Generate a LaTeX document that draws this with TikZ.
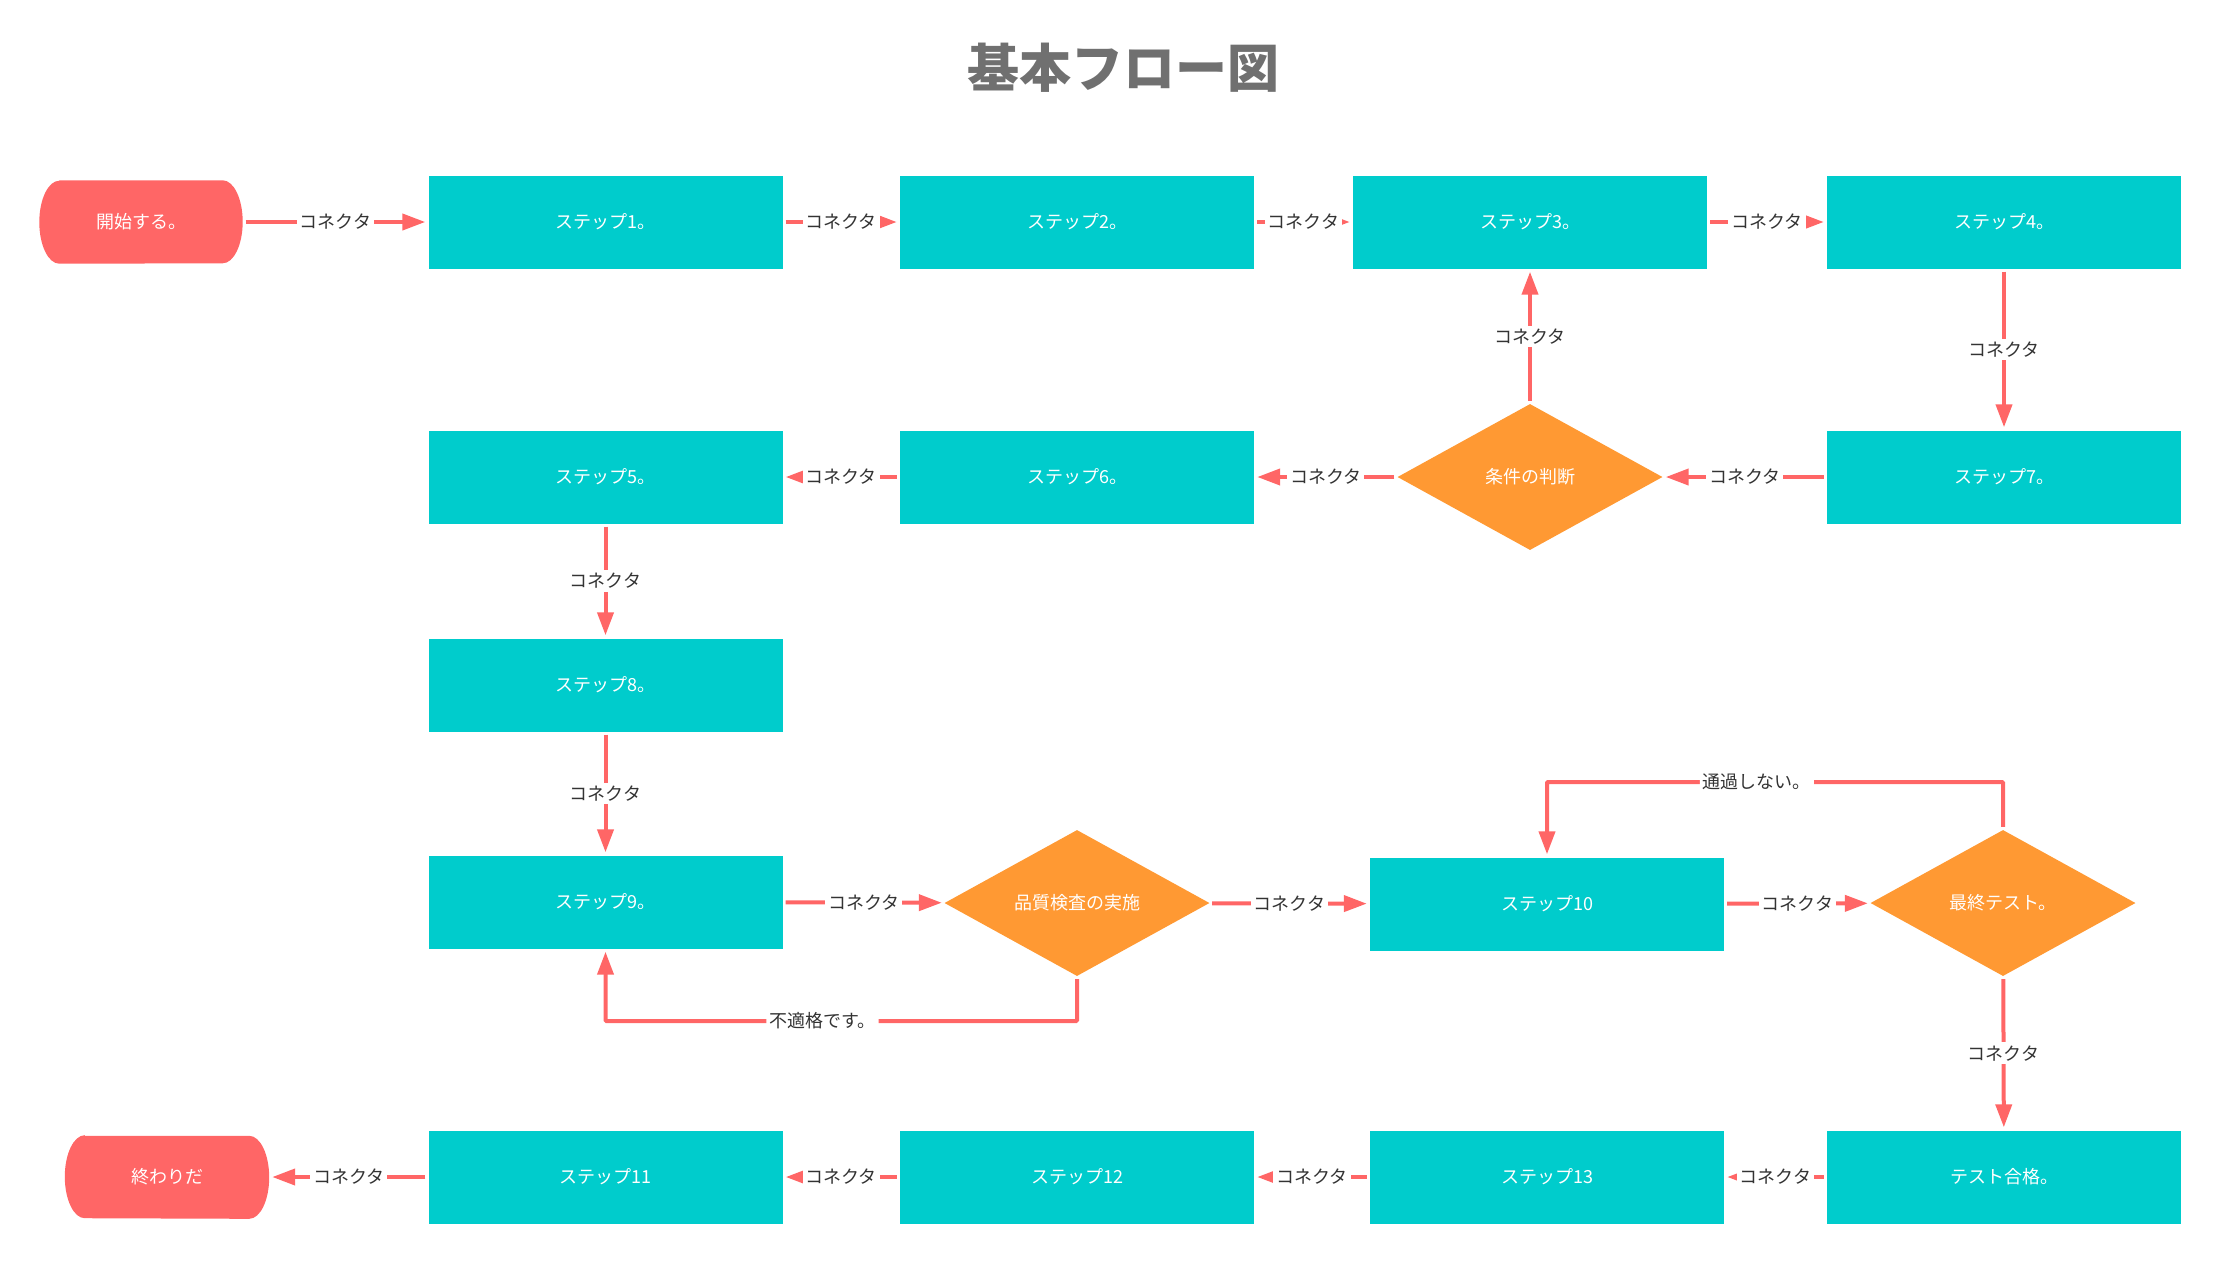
\documentclass[tikz,border=0pt]{standalone}
\usepackage{fontspec}
\setmainfont{Noto Sans CJK JP}
\usetikzlibrary{shapes.geometric,arrows.meta,backgrounds,calc}
\definecolor{tealbox}{HTML}{00CCCC}
\definecolor{redline}{HTML}{FF6666}
\definecolor{orangebox}{HTML}{FF9933}
\definecolor{titlegray}{HTML}{707070}
\definecolor{lblgray}{HTML}{333333}
\tikzset{
  stepbox/.style={rectangle, fill=tealbox, minimum width=354pt, minimum height=93pt, inner sep=0pt, text=white, font=\fontsize{18}{20}\selectfont},
  decbox/.style={diamond, fill=orangebox, minimum width=265pt, minimum height=146pt, inner sep=0pt, text=white, font=\fontsize{18}{20}\selectfont},
  termtext/.style={rectangle, minimum width=203pt, minimum height=83pt, inner sep=0pt, text=white, font=\fontsize{18}{20}\selectfont},
  conn/.style={draw=redline, line width=4pt, -{Triangle[length=23pt,width=16pt]}, shorten >=3pt, shorten <=3pt},
  lbl/.style={fill=white, text=lblgray, font=\fontsize{18}{19}\selectfont, inner sep=3pt},
  termshape/.style={fill=redline}
}
\newcommand{\termfill}[1]{%
  \fill[termshape] ($(#1.north west)+(20pt,0)$) -- ($(#1.north east)+(-20pt,0)$)
    arc[start angle=90, end angle=-90, x radius=20pt, y radius=41.5pt]
    -- ($(#1.south west)+(20pt,0)$)
    arc[start angle=270, end angle=90, x radius=20pt, y radius=41.5pt] -- cycle;}
\begin{document}
\begin{tikzpicture}[x=1pt, y=-1pt]
\path[use as bounding box] (0,0) rectangle (2218,1262);

\node[text=titlegray, font=\fontsize{52}{56}\selectfont\bfseries] (title) at (1123,68) {基本フロー図};

% row 1
\node[termtext] (start) at (141,222) {開始する。};
\node[stepbox] (s1) at (605.5,222) {ステップ1。};
\node[stepbox] (s2) at (1077,222) {ステップ2。};
\node[stepbox] (s3) at (1530,222) {ステップ3。};
\node[stepbox] (s4) at (2004,222) {ステップ4。};
% row 2
\node[stepbox] (s7) at (2004,477) {ステップ7。};
\node[decbox] (cond) at (1530,477) {条件の判断};
\node[stepbox] (s6) at (1077,477) {ステップ6。};
\node[stepbox] (s5) at (605.5,477) {ステップ5。};
% row 3
\node[stepbox] (s8) at (605.5,685) {ステップ8。};
% row 4
\node[stepbox] (s9) at (605.5,902) {ステップ9。};
\node[decbox] (qc) at (1077,903) {品質検査の実施};
\node[stepbox] (s10) at (1547,904) {ステップ10};
\node[decbox] (fin) at (2003,903) {最終テスト。};
% row 5
\node[stepbox] (pass) at (2004,1177) {テスト合格。};
\node[stepbox] (s13) at (1547,1177) {ステップ13};
\node[stepbox] (s12) at (1077,1177) {ステップ12};
\node[stepbox] (s11) at (605.5,1177) {ステップ11};
\node[termtext, minimum width=204pt, minimum height=82pt] (end) at (167,1177) {終わりだ};

\begin{scope}[on background layer]
\termfill{start}
\termfill{end}
\end{scope}

\coordinate (loopA) at (0,782);
\coordinate (loopB) at (0,1021);

\draw[conn] (start) -- node[lbl]{コネクタ} (s1);
\draw[conn] (s1) -- node[lbl]{コネクタ} (s2);
\draw[conn] (s2) -- node[lbl]{コネクタ} (s3);
\draw[conn] (s3) -- node[lbl]{コネクタ} (s4);
\draw[conn] (s4) -- node[lbl]{コネクタ} (s7);
\draw[conn] (s7) -- node[lbl]{コネクタ} (cond);
\draw[conn] (cond) -- node[lbl]{コネクタ} (s3);
\draw[conn] (cond) -- node[lbl]{コネクタ} (s6);
\draw[conn] (s6) -- node[lbl]{コネクタ} (s5);
\draw[conn] (s5) -- node[lbl]{コネクタ} (s8);
\draw[conn] (s8) -- node[lbl]{コネクタ} (s9);
\draw[conn] (s9) -- node[lbl]{コネクタ} (qc);
\draw[conn] (qc) -- node[lbl]{コネクタ} (s10);
\draw[conn] (s10) -- node[lbl]{コネクタ} (fin);
\draw[conn] (fin) -- node[lbl]{コネクタ} (pass);
\draw[conn] (pass) -- node[lbl]{コネクタ} (s13);
\draw[conn] (s13) -- node[lbl]{コネクタ} (s12);
\draw[conn] (s12) -- node[lbl]{コネクタ} (s11);
\draw[conn] (s11) -- node[lbl]{コネクタ} (end);

\draw[conn, rounded corners=1pt] (fin.north) -- (fin.north |- loopA) -- node[lbl, pos=0.54]{通過しない。} (s10.north |- loopA) -- (s10.north);
\draw[conn, rounded corners=1pt] (qc.south) -- (qc.south |- loopB) -- node[lbl, pos=0.54]{不適格です。} (s9.south |- loopB) -- (s9.south);
\end{tikzpicture}
\end{document}
